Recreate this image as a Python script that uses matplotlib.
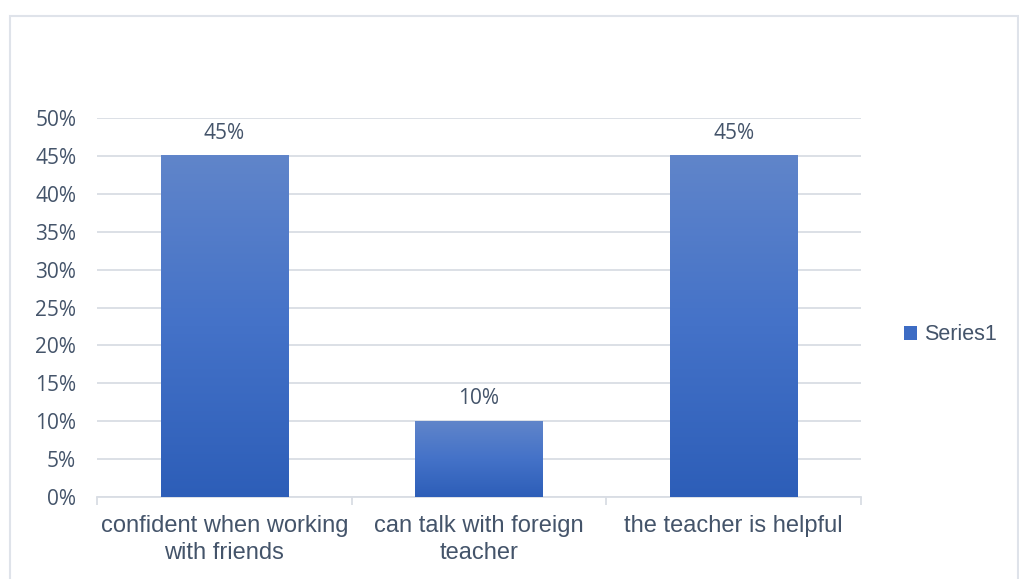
import numpy as np
import matplotlib.pyplot as plt
from matplotlib.colors import LinearSegmentedColormap
from matplotlib.patches import Rectangle, Patch

categories = ['confident when working\nwith friends',
              'can talk with foreign\nteacher',
              'the teacher is helpful']
values = [45, 10, 45]
series_name = 'Series1'

W, H = 1019, 579
text_col = '#44546a'
grid_col = '#d9dde4'

fig = plt.figure(figsize=(W / 100, H / 100), dpi=100)
fig.patch.set_facecolor('white')

# outer chart frame
fig.patches.append(Rectangle((10 / W, -0.05), 1008 / W, 1.05 - 16 / H,
                             transform=fig.transFigure, fill=False,
                             edgecolor='#dfe3ea', linewidth=1.5))

ax = fig.add_axes([97 / W, (H - 497) / H, (861 - 97) / W, (497 - 118) / H])
x = np.arange(len(values))
bars = ax.bar(x, values, width=0.5, color='none', zorder=3)

# vertical gradient fill inside each bar
cmap = LinearSegmentedColormap.from_list('bar', ['#2d5eb8', '#4472c8', '#6085ca'])
grad = np.linspace(0, 1, 256).reshape(-1, 1)
for b in bars:
    x0, y0 = b.get_x(), b.get_y()
    ax.imshow(grad, cmap=cmap, origin='lower', aspect='auto',
              extent=[x0, x0 + b.get_width(), y0, y0 + b.get_height()],
              zorder=3)

for xi, v in zip(x, values):
    ax.text(xi, v + 3.0, f'{v}%', ha='center', va='center',
            fontsize=15, color=text_col, family='Open Sans')

ax.set_xlim(-0.5, len(values) - 0.5)
ax.set_ylim(0, 50)
ax.set_yticks(np.arange(0, 51, 5))
ax.set_yticklabels([f'{t}%' for t in range(0, 51, 5)],
                   fontsize=15, color=text_col, family='Open Sans')
ax.yaxis.grid(True, color=grid_col, linewidth=1.3, zorder=0)
ax.set_axisbelow(True)
ax.tick_params(axis='y', length=0, pad=15)

ax.set_xticks(np.arange(-0.5, len(values)), minor=False)
ax.set_xticklabels([])
ax.set_xticks(x, minor=True)
ax.set_xticklabels(categories, minor=True, fontsize=17,
                   color=text_col, family='Liberation Sans', linespacing=1.3)
ax.tick_params(axis='x', which='major', length=6, color=grid_col, width=1.3)
ax.tick_params(axis='x', which='minor', length=0, pad=13)

for s in ['top', 'right', 'left']:
    ax.spines[s].set_visible(False)
ax.spines['bottom'].set_color(grid_col)
ax.spines['bottom'].set_linewidth(1.3)

leg = fig.legend(handles=[Patch(facecolor='#3d6cc4', label=series_name)],
                 loc='center left', bbox_to_anchor=(885 / W, (H - 335) / H),
                 frameon=False, handlelength=0.6, handleheight=0.6,
                 handletextpad=0.3,
                 prop={'family': 'Liberation Sans', 'size': 15.5})
for t in leg.get_texts():
    t.set_color(text_col)

fig.savefig('out.png', dpi=100)
